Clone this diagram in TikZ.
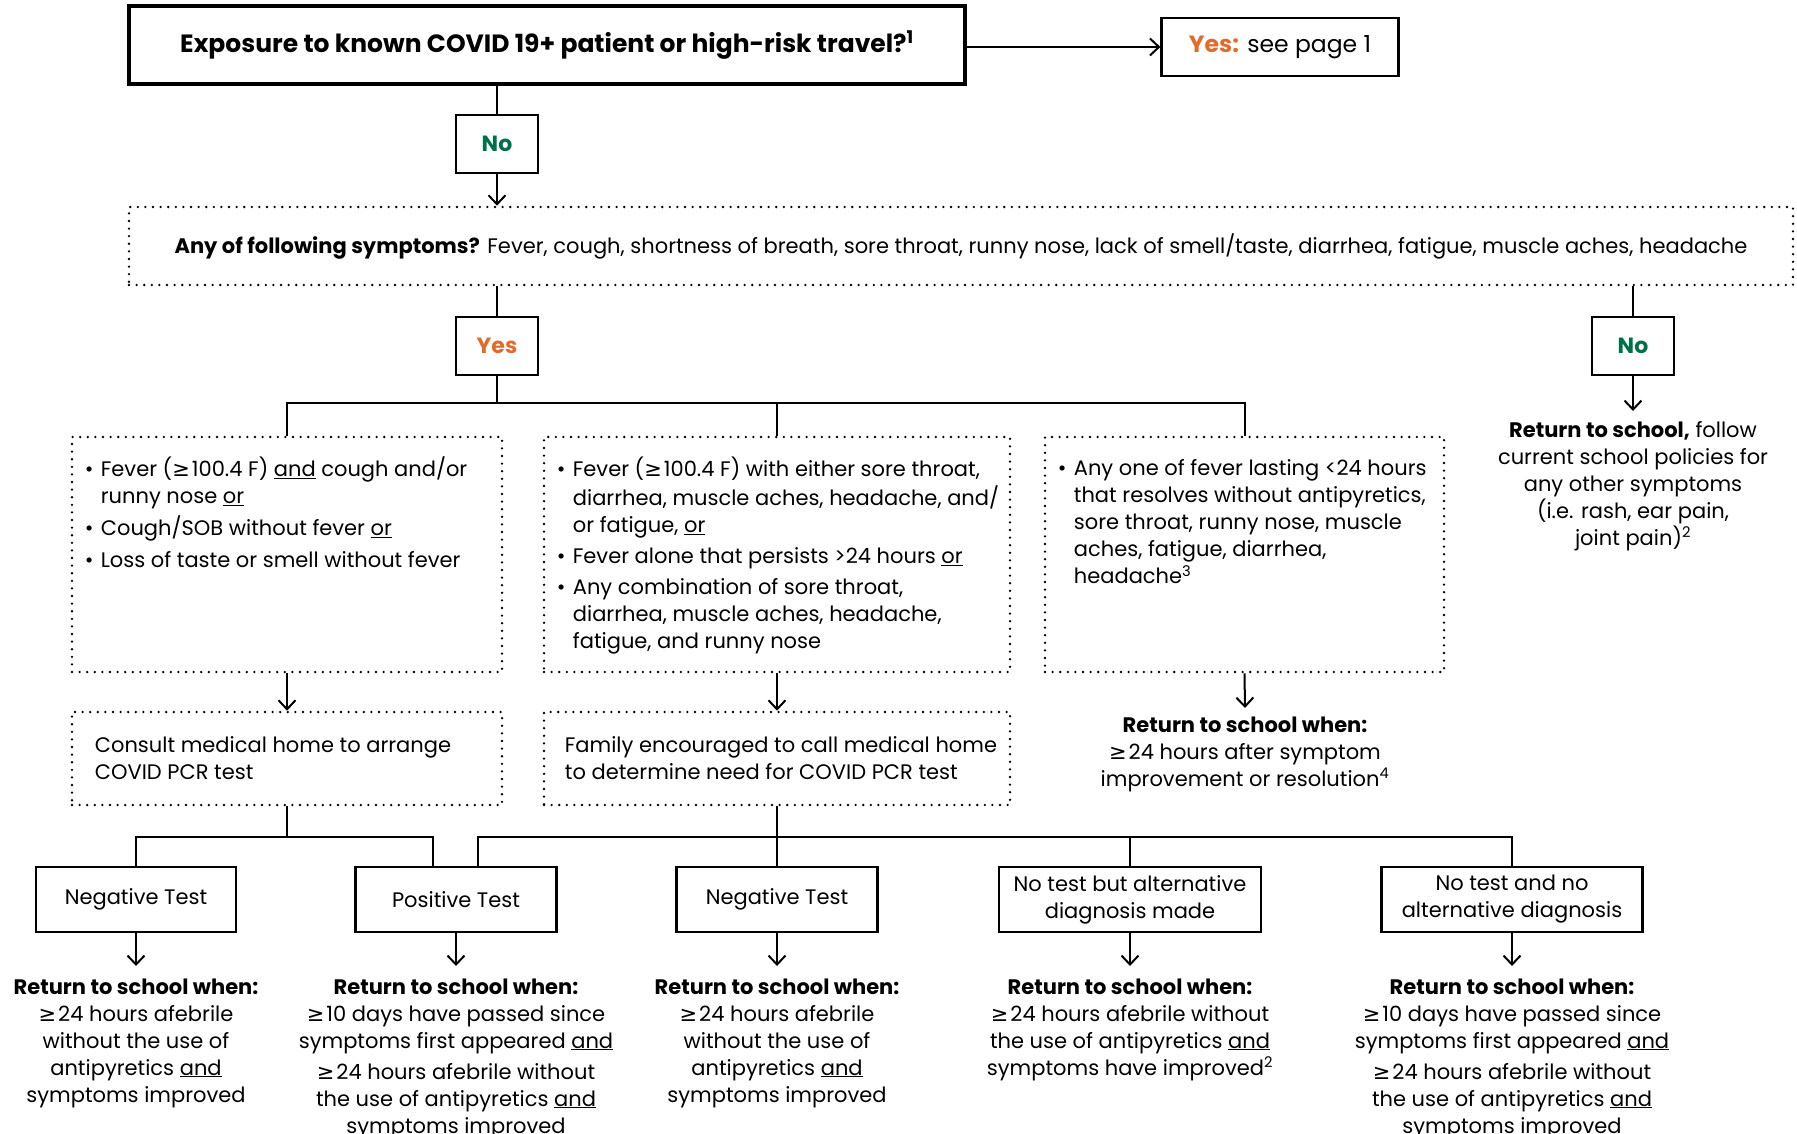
\documentclass[tikz,border=0pt]{standalone}
\usepackage{fontspec}
\setmainfont{Poppins}
\newfontfamily\symfont{DejaVu Sans}
\usetikzlibrary{arrows.meta}

\definecolor{yesorange}{HTML}{E46A2C}
\definecolor{nogreen}{HTML}{00704A}

\newcommand{\gq}{{\symfont ≥}\hspace{2pt}}
\newcommand{\bul}{\makebox[16pt][l]{\textbullet}}
\newcommand{\ind}{\hspace*{16pt}}

\begin{document}
\begin{tikzpicture}[x=1pt, y=1pt,
    txt/.style={font=\fontsize{21}{27}\selectfont, inner sep=0pt},
    box/.style={rectangle, draw, line width=2.2pt, font=\fontsize{21}{27}\selectfont, align=center},
    dotbox/.style={rectangle, draw, line width=2.6pt, dash pattern=on 0pt off 7.6pt, line cap=round, font=\fontsize{21}{27}\selectfont},
    ansbox/.style={box, minimum width=82pt, minimum height=58pt, font=\fontsize{22}{24}\selectfont\bfseries},
    testbox/.style={box, minimum height=65pt},
    arrow/.style={-{Straight Barb[length=9pt,width=17pt]}, line width=2pt},
    conn/.style={line width=2pt}
]
\fill[white] (0,0) rectangle (1797,-1134);
\useasboundingbox (0,0) rectangle (1797,-1134);

% exposure question
\node[box, line width=3.5pt, minimum width=836pt, minimum height=78pt, font=\fontsize{25}{28}\selectfont\bfseries] (expo) at (547,-45) {Exposure to known COVID 19+ patient or high-risk travel?\textsuperscript{1}};
\node[box, minimum width=237pt, minimum height=58pt, font=\fontsize{23.5}{26}\selectfont] (page1) at (1280,-47) {{\color{yesorange}\bfseries Yes:} see page 1};
\node[ansbox, text=nogreen] (no1) at (497,-144) {No};

\draw[arrow] (expo.east |- page1) -- (page1.west);
\draw[conn] (expo.south -| no1) -- (no1.north);

% symptoms
\node[dotbox, minimum width=1664pt, minimum height=78pt] (symp) at (961,-246) {\textbf{Any of following symptoms?} Fever, cough, shortness of breath, sore throat, runny nose, lack of smell/taste, diarrhea, fatigue, muscle aches, headache};
\draw[arrow] (no1.south) -- (symp.north -| no1);

\node[ansbox, text=yesorange] (yes2) at (497,-346) {Yes};
\node[ansbox, text=nogreen] (no2) at (1633,-346) {No};
\draw[conn] (symp.south -| yes2) -- (yes2.north);
\draw[conn] (symp.south -| no2) -- (no2.north);

\node[txt, align=center, anchor=north] (retno) at (1633,-418) {\strut\textbf{Return to school,} follow\\ current school policies for\\ any other symptoms\\ (i.e. rash, ear pain,\\ joint pain)\textsuperscript{2}};
\draw[arrow] (no2.south) -- ([yshift=7pt]retno.north);

% three symptom groups
\coordinate (bus1) at (0,-403);
\node[dotbox, minimum width=430pt, minimum height=235pt] (symA) at (287,-554.5) {};
\node[dotbox, minimum width=466pt, minimum height=235pt] (symB) at (777,-554.5) {};
\node[dotbox, minimum width=399pt, minimum height=235pt] (symC) at (1244.5,-554.5) {};

\draw[conn] (symA.north) -- (symA.north |- bus1) -- (symC.north |- bus1) -- (symC.north);
\draw[conn] (yes2.south) -- (yes2.south |- bus1);
\draw[conn] (symB.north) -- (symB.north |- bus1);

\node[txt, align=left, anchor=north west] (symAtxt) at ([xshift=14pt,yshift=-21pt]symA.north west) {\strut\bul Fever (\gq100.4 F) \underline{and} cough and/or\\ \ind runny nose \underline{or}\\[5pt] \bul Cough/SOB without fever \underline{or}\\[5pt] \bul Loss of taste or smell without fever};
\node[txt, align=left, anchor=north west] (symBtxt) at ([xshift=14pt,yshift=-21pt]symB.north west) {\strut\bul Fever (\gq100.4 F) with either sore throat,\\ \ind diarrhea, muscle aches, headache, and/\\ \ind or fatigue, \underline{or}\\[4pt] \bul Fever alone that persists {>}24 hours \underline{or}\\[4pt] \bul Any combination of sore throat,\\ \ind diarrhea, muscle aches, headache,\\ \ind fatigue, and runny nose};
\node[txt, align=left, anchor=north west] (symCtxt) at ([xshift=14pt,yshift=-21pt]symC.north west) {\strut\bul Any one of fever lasting {<}24 hours\\ \ind that resolves without antipyretics,\\ \ind sore throat, runny nose, muscle\\ \ind aches, fatigue, diarrhea,\\ \ind headache\textsuperscript{3}};

% next steps
\node[dotbox, minimum width=430pt, minimum height=93pt] (conA) at (287,-758.5) {};
\node[dotbox, minimum width=466pt, minimum height=93pt] (conB) at (777,-758.5) {};
\node[txt, align=left, anchor=west] (conAtxt) at ([xshift=24pt]conA.west) {Consult medical home to arrange\\ COVID PCR test};
\node[txt, align=left, anchor=west] (conBtxt) at ([xshift=22pt]conB.west) {Family encouraged to call medical home\\ to determine need for COVID PCR test};
\draw[arrow] (symA.south) -- (conA.north);
\draw[arrow] (symB.south) -- (conB.north);

\node[txt, align=center, anchor=north] (retC) at (1245,-713) {\strut\textbf{Return to school when:}\\ \gq24 hours after symptom\\ improvement or resolution\textsuperscript{4}};
\draw[arrow] (symC.south) -- ([yshift=5pt]retC.north);

% test results
\coordinate (bus2) at (0,-837);
\node[testbox, minimum width=200pt] (neg1) at (136,-899.5) {Negative Test};
\node[testbox, minimum width=201pt] (pos) at (456,-899.5) {Positive Test};
\node[testbox, minimum width=201pt] (neg2) at (777,-899.5) {Negative Test};
\node[testbox, minimum width=262pt] (alt) at (1130,-899.5) {No test but alternative\\ diagnosis made};
\node[testbox, minimum width=261pt] (noalt) at (1512,-899.5) {No test and no\\ alternative diagnosis};

\draw[conn] (neg1.north) -- (neg1.north |- bus2) -- ([xshift=-23pt]pos.north |- bus2) -- ([xshift=-23pt]pos.north);
\draw[conn] (conA.south) -- (conA.south |- bus2);
\draw[conn] ([xshift=22pt]pos.north) -- ([xshift=22pt]pos.north |- bus2) -- (noalt.north |- bus2) -- (noalt.north);
\draw[conn] (conB.south) -- (neg2.north);
\draw[conn] (alt.north) -- (alt.north |- bus2);

% return criteria
\node[txt, align=center, anchor=north] (ret1) at (136,-975) {\strut\textbf{Return to school when:}\\ \gq24 hours afebrile\\ without the use of\\ antipyretics \underline{and}\\ symptoms improved};
\node[txt, align=center, anchor=north] (ret2) at (456,-975) {\strut\textbf{Return to school when:}\\ \gq10 days have passed since\\ symptoms first appeared \underline{and}\\[4pt] \gq24 hours afebrile without\\ the use of antipyretics \underline{and}\\ symptoms improved};
\node[txt, align=center, anchor=north] (ret3) at (777,-975) {\strut\textbf{Return to school when:}\\ \gq24 hours afebrile\\ without the use of\\ antipyretics \underline{and}\\ symptoms improved};
\node[txt, align=center, anchor=north] (ret4) at (1130,-975) {\strut\textbf{Return to school when:}\\ \gq24 hours afebrile without\\ the use of antipyretics \underline{and}\\ symptoms have improved\textsuperscript{2}};
\node[txt, align=center, anchor=north] (ret5) at (1512,-975) {\strut\textbf{Return to school when:}\\ \gq10 days have passed since\\ symptoms first appeared \underline{and}\\[4pt] \gq24 hours afebrile without\\ the use of antipyretics \underline{and}\\ symptoms improved};

\foreach \t/\r in {neg1/ret1, pos/ret2, neg2/ret3, alt/ret4, noalt/ret5}
    \draw[arrow] (\t.south) -- ([yshift=9pt]\r.north);

\end{tikzpicture}
\end{document}
